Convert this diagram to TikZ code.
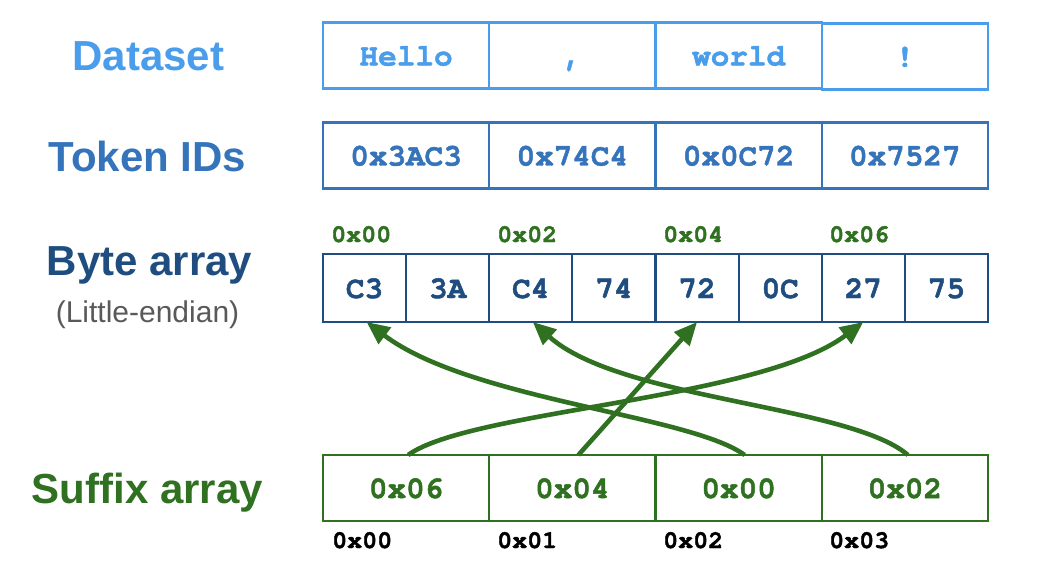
\documentclass[tikz,border=0pt]{standalone}
\usepackage{fontspec}
\setmainfont{Liberation Sans}
\newfontfamily\monof[FakeBold=1.6]{texgyrecursor-bold.otf}
\usetikzlibrary{arrows.meta,calc}
\definecolor{dsblue}{HTML}{4A9DEB}
\definecolor{tkblue}{HTML}{3574BA}
\definecolor{bytblue}{HTML}{1F4D80}
\definecolor{sgreen}{HTML}{2F7021}
\definecolor{lgray}{HTML}{595959}
\begin{document}
\begin{tikzpicture}[x=1pt,y=-1pt,
  cell/.style={draw, line width=2.2pt, minimum height=66pt, inner sep=0pt, outer sep=0pt,
    font=\monof\fontsize{31}{31}\selectfont, text height=20pt, text depth=0pt},
  wide/.style={cell, minimum width=166.25pt},
  narrow/.style={cell, minimum width=83.125pt, minimum height=68pt},
  dscell/.style={wide, draw=dsblue, text=dsblue},
  tkcell/.style={wide, draw=tkblue, text=tkblue},
  bycell/.style={narrow, draw=bytblue, text=bytblue},
  sfcell/.style={wide, draw=sgreen, text=sgreen},
  rowlabel/.style={font=\bfseries\fontsize{42}{42}\selectfont, anchor=base, inner sep=0pt},
  idx/.style={font=\monof\fontsize{25}{25}\selectfont, anchor=base west, inner sep=0pt},
  link/.style={draw=sgreen, line width=4.6pt, -{Triangle[length=23pt,width=20pt]}}
]
\useasboundingbox (0,0) rectangle (1053,575);

% row labels
\node[rowlabel, text=dsblue] (ldata) at (148.5,71) {Dataset};
\node[rowlabel, text=tkblue] (ltok) at (147.5,172) {Token IDs};
\node[rowlabel, text=bytblue] (lbyte) at (149.5,275) {Byte array};
\node[anchor=base, inner sep=0pt, text=lgray, font=\fontsize{30}{30}\selectfont] (lendian) at (147.5,322) {(Little-endian)};
\node[rowlabel, text=sgreen] (lsuf) at (147.5,503) {Suffix array};

% dataset row
\node[dscell] (d1) at (406.125,55.5) {Hello};
\node[dscell] (d2) at (572.375,55.5) {,};
\node[dscell] (d3) at (738.625,55.5) {world};
\node[dscell] (d4) at (904.875,56.5) {!};

% token row
\node[tkcell] (t1) at (406.125,155.5) {0x3AC3};
\node[tkcell] (t2) at (572.375,155.5) {0x74C4};
\node[tkcell] (t3) at (738.625,155.5) {0x0C72};
\node[tkcell] (t4) at (904.875,155.5) {0x7527};

% byte row
\node[bycell] (b1) at (364.5625,288) {C3};
\node[bycell] (b2) at (447.6875,288) {3A};
\node[bycell] (b3) at (530.8125,288) {C4};
\node[bycell] (b4) at (613.9375,288) {74};
\node[bycell] (b5) at (697.0625,288) {72};
\node[bycell] (b6) at (780.1875,288) {0C};
\node[bycell] (b7) at (863.3125,288) {27};
\node[bycell] (b8) at (946.4375,288) {75};

% byte offsets
\node[idx, text=sgreen] (o0) at (331,242) {0x00};
\node[idx, text=sgreen] (o2) at (497,242) {0x02};
\node[idx, text=sgreen] (o4) at (663,242) {0x04};
\node[idx, text=sgreen] (o6) at (829,242) {0x06};

% suffix row
\node[sfcell] (s1) at (406.125,488) {0x06};
\node[sfcell] (s2) at (572.375,488) {0x04};
\node[sfcell] (s3) at (738.625,488) {0x00};
\node[sfcell] (s4) at (904.875,488) {0x02};

% suffix indices
\node[idx, text=black] (i0) at (332,548) {0x00};
\node[idx, text=black] (i1) at (497,548) {0x01};
\node[idx, text=black] (i2) at (663,548) {0x02};
\node[idx, text=black] (i3) at (829,548) {0x03};

% arrows
\draw[link] ($(s1.north)+(2,0)$) .. controls (470,410) and (760,400) .. (b7.south);
\draw[link] ($(s2.north)+(6,0)$) -- (b5.south);
\draw[link] ($(s3.north)+(6,0)$) .. controls (690,415) and (470,400) .. ($(b1.south)+(2,0)$);
\draw[link] ($(s4.north)+(3,0)$) .. controls (850,405) and (620,400) .. ($(b3.south)+(2,0)$);
\end{tikzpicture}
\end{document}
